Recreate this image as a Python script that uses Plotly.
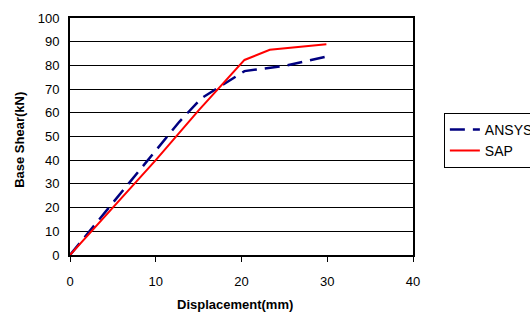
import plotly.graph_objects as go

ansys_x = [0, 6.9, 12.75, 15.3, 17.4, 20.35, 25.2, 29.9]
ansys_y = [0, 30.2, 56.2, 66.1, 70.8, 77.6, 79.9, 83.7]
sap_x = [0, 5, 10, 15, 20.35, 23.3, 29.9]
sap_y = [0, 20, 40, 61, 82.3, 86.6, 88.9]

x_ticks = [0, 10, 20, 30, 40]
y_ticks = [0, 10, 20, 30, 40, 50, 60, 70, 80, 90, 100]

fig = go.Figure()
fig.add_trace(go.Scatter(x=ansys_x, y=ansys_y, mode="lines", name="ANSYS",
                         line=dict(color="#000080", width=2.5, dash="15px,8px")))
fig.add_trace(go.Scatter(x=sap_x, y=sap_y, mode="lines", name="SAP",
                         line=dict(color="#ff0000", width=2)))

font = dict(family="Liberation Sans, Arial, sans-serif", color="black")
fig.update_layout(
    width=530, height=312,
    margin=dict(l=70, r=117, t=18, b=57, autoexpand=False),
    paper_bgcolor="white", plot_bgcolor="white",
    font=dict(size=13, **font),
    showlegend=True,
    legend=dict(x=1.09, y=0.6, xanchor="left", yanchor="top",
                bordercolor="black", borderwidth=1, bgcolor="white",
                font=dict(size=14, **font), tracegroupgap=0),
    xaxis=dict(range=[0, 40], tickvals=x_ticks, showgrid=False, zeroline=False,
               showline=True, linecolor="black", linewidth=2, mirror=True,
               ticks="outside", ticklen=5, tickcolor="black", tickwidth=1,
               tickfont=dict(size=13, **font), automargin=False, ticklabelstandoff=8),
    yaxis=dict(range=[0, 100], tickvals=y_ticks, showgrid=True, gridcolor="black", gridwidth=1,
               zeroline=False, showline=True, linecolor="black", linewidth=2, mirror=True,
               ticks="", tickfont=dict(size=13, **font), automargin=False, ticklabelstandoff=6),
    annotations=[
        dict(text="<b>Displacement(mm)</b>", xref="paper", yref="paper", x=0.48, y=0,
             yshift=-49, xanchor="center", yanchor="middle", showarrow=False,
             font=dict(size=13, **font)),
        dict(text="<b>Base Shear(kN)</b>", xref="paper", yref="paper", x=0, y=0.486,
             xshift=-50, xanchor="center", yanchor="middle", showarrow=False, textangle=-90,
             font=dict(size=13, **font)),
    ],
)
fig.write_html("out.html", config={"displayModeBar": False},
               post_script="document.body.style.margin='0';document.body.style.overflow='hidden';")
